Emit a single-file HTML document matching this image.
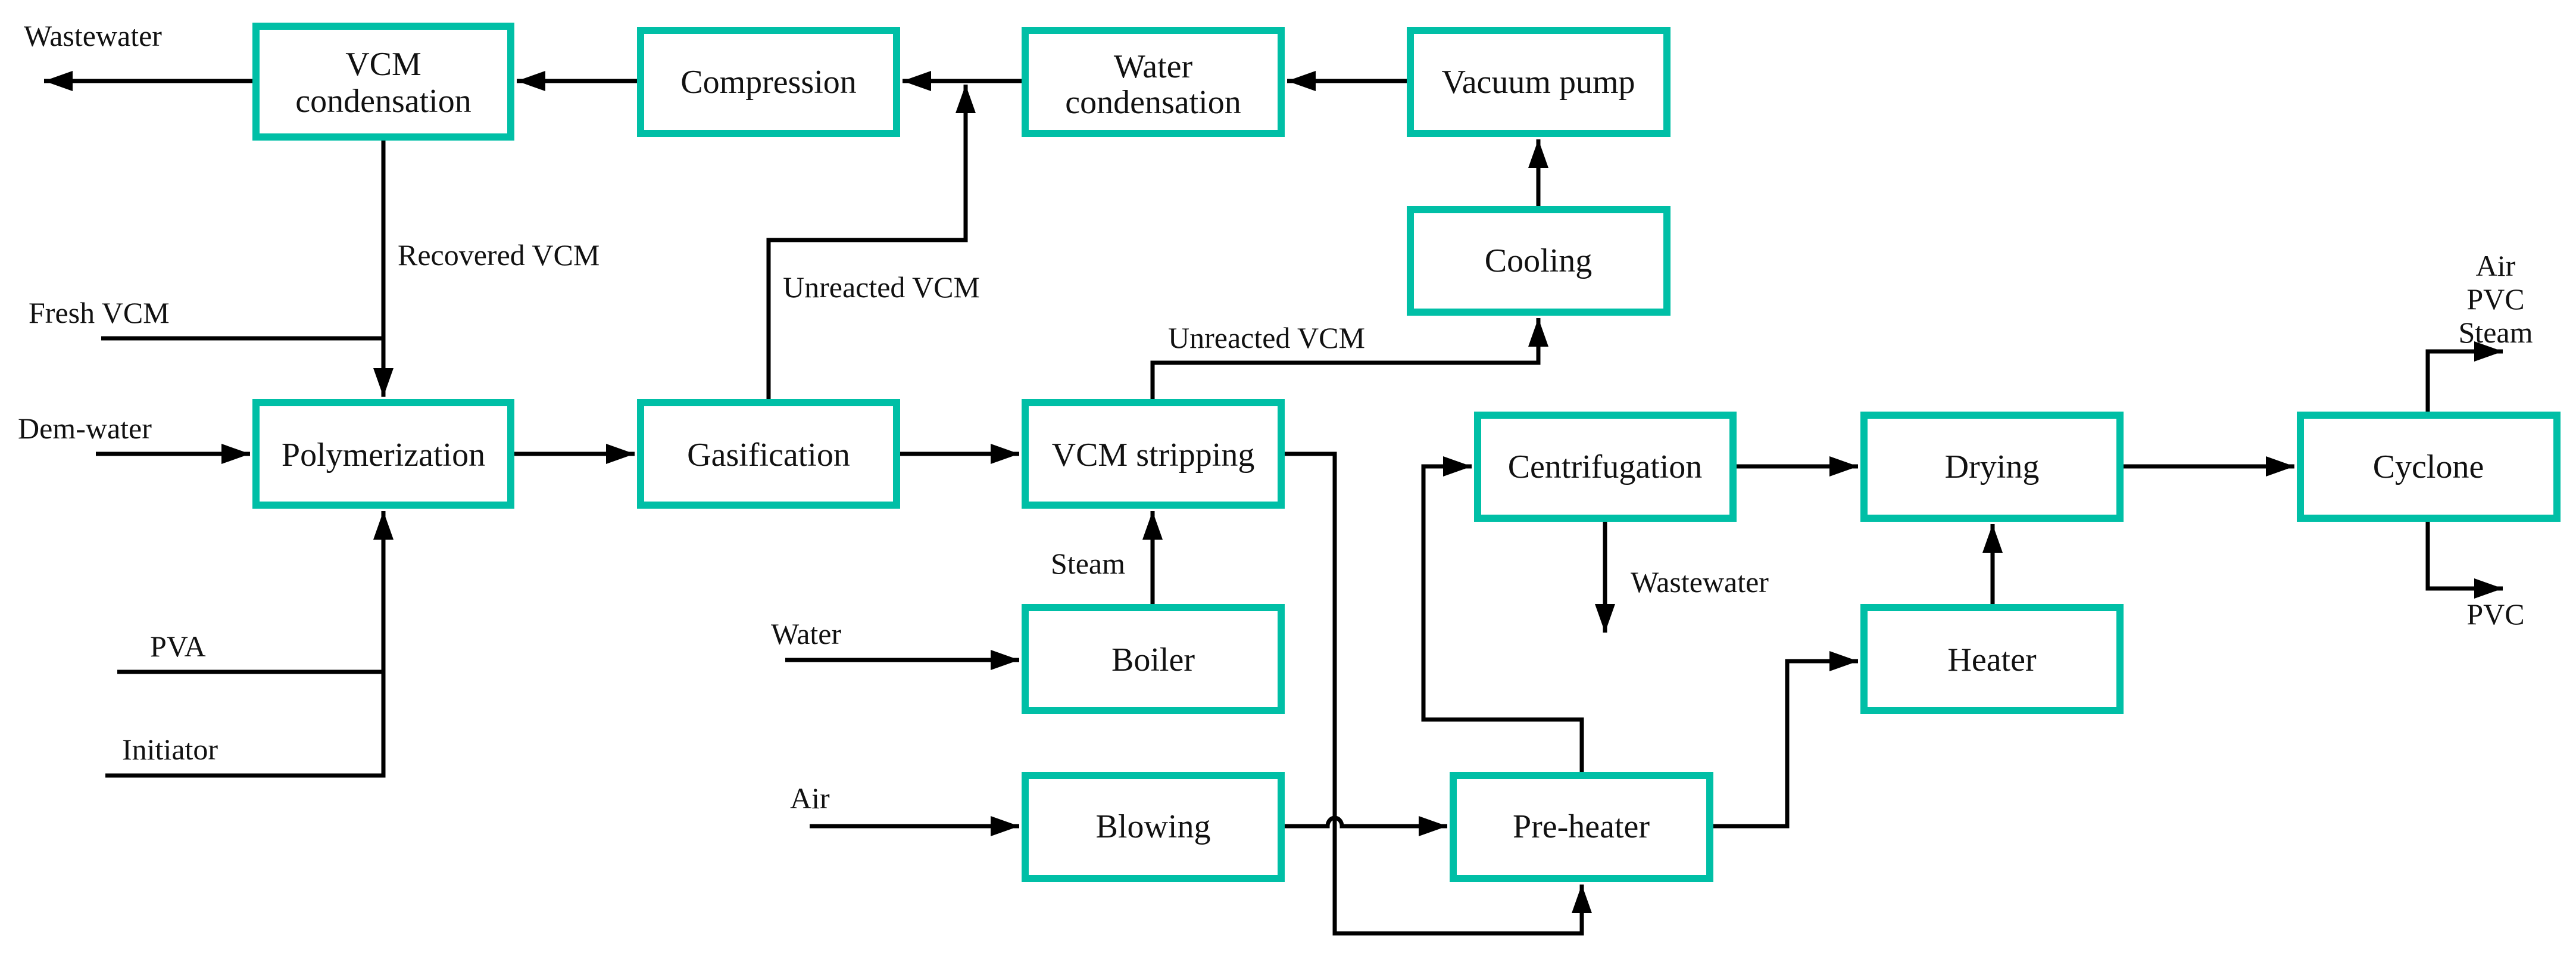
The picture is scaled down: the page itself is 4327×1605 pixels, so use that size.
<!DOCTYPE html>
<html><head><meta charset="utf-8"><style>
html,body{margin:0;padding:0;background:#fff;}
svg{display:block;}
svg text{font-family:"Liberation Serif","DejaVu Serif","Noto Serif CJK SC",serif !important;fill:#111;dominant-baseline:central;}
.b{fill:#fff;stroke:#00bfa6;stroke-width:12;}
.bt{font-size:56px;text-anchor:middle;}
.l{font-size:50px;}
.c{fill:none;stroke:#000;stroke-width:7;}
</style></head><body>
<svg width="4327" height="1605" viewBox="0 0 4327 1605" xmlns="http://www.w3.org/2000/svg" font-family="Liberation Serif, DejaVu Serif, serif">
<defs>
<marker id="a" markerUnits="userSpaceOnUse" markerWidth="50" markerHeight="34" refX="48" refY="17" orient="auto">
<path d="M0,0 L48,17 L0,34 Z" fill="#000"/></marker>
</defs>
<path class="c" d="M424,136 H74" marker-end="url(#a)"/>
<path class="c" d="M1070,136 H868" marker-end="url(#a)"/>
<path class="c" d="M1716,136 H1516" marker-end="url(#a)"/>
<path class="c" d="M2363,136 H2162" marker-end="url(#a)"/>
<path class="c" d="M1291,670 V403 H1622 V142" marker-end="url(#a)"/>
<path class="c" d="M644,236 V666" marker-end="url(#a)"/>
<path class="c" d="M170,568 H644"/>
<path class="c" d="M161,762 H420" marker-end="url(#a)"/>
<path class="c" d="M864,762 H1066" marker-end="url(#a)"/>
<path class="c" d="M1512,762 H1712" marker-end="url(#a)"/>
<path class="c" d="M197,1128 H644"/>
<path class="c" d="M177,1302 H644 V858" marker-end="url(#a)"/>
<path class="c" d="M1936,670 V609 H2584 V534" marker-end="url(#a)"/>
<path class="c" d="M2584,346 V234" marker-end="url(#a)"/>
<path class="c" d="M4078,691 V590 H4204" marker-end="url(#a)"/>
<path class="c" d="M4078,876 V988 H4204" marker-end="url(#a)"/>
<path class="c" d="M2917,783 H3121" marker-end="url(#a)"/>
<path class="c" d="M3567,783 H3854" marker-end="url(#a)"/>
<path class="c" d="M2696,876 V1062" marker-end="url(#a)"/>
<path class="c" d="M3347,1014 V880" marker-end="url(#a)"/>
<path class="c" d="M2878,1387 H3002 V1110 H3121" marker-end="url(#a)"/>
<path class="c" d="M2657,1296 V1208 H2391 V783 H2472" marker-end="url(#a)"/>
<path class="c" d="M2158,762 H2242 V1567 H2657 V1485" marker-end="url(#a)"/>
<path class="c" d="M2158,1387 H2230 A12,14 0 0 1 2254,1387 H2431" marker-end="url(#a)"/>
<path class="c" d="M1319,1108 H1712" marker-end="url(#a)"/>
<path class="c" d="M1360,1387 H1712" marker-end="url(#a)"/>
<path class="c" d="M1936,1014 V858" marker-end="url(#a)"/>
<rect class="b" x="430" y="44" width="428" height="186"/>
<rect class="b" x="1076" y="51" width="430" height="173"/>
<rect class="b" x="1722" y="51" width="430" height="173"/>
<rect class="b" x="2369" y="51" width="431" height="173"/>
<rect class="b" x="2369" y="352" width="431" height="172"/>
<rect class="b" x="430" y="676" width="428" height="172"/>
<rect class="b" x="1076" y="676" width="430" height="172"/>
<rect class="b" x="1722" y="676" width="430" height="172"/>
<rect class="b" x="2482" y="697" width="429" height="173"/>
<rect class="b" x="3131" y="697" width="430" height="173"/>
<rect class="b" x="3864" y="697" width="431" height="173"/>
<rect class="b" x="1722" y="1020" width="430" height="173"/>
<rect class="b" x="3131" y="1020" width="430" height="173"/>
<rect class="b" x="1722" y="1302" width="430" height="173"/>
<rect class="b" x="2441" y="1302" width="431" height="173"/>
<text class="bt" x="644" y="108">VCM</text>
<text class="bt" x="644" y="170">condensation</text>
<text class="bt" x="1291" y="138">Compression</text>
<text class="bt" x="1937" y="112">Water</text>
<text class="bt" x="1937" y="172">condensation</text>
<text class="bt" x="2584" y="138">Vacuum pump</text>
<text class="bt" x="2584" y="438">Cooling</text>
<text class="bt" x="644" y="764">Polymerization</text>
<text class="bt" x="1291" y="764">Gasification</text>
<text class="bt" x="1937" y="764">VCM stripping</text>
<text class="bt" x="2696" y="784">Centrifugation</text>
<text class="bt" x="3346" y="784">Drying</text>
<text class="bt" x="4079" y="784">Cyclone</text>
<text class="bt" x="1937" y="1108">Boiler</text>
<text class="bt" x="3346" y="1108">Heater</text>
<text class="bt" x="1937" y="1388">Blowing</text>
<text class="bt" x="2656" y="1388">Pre-heater</text>
<text class="l" x="40" y="60">Wastewater</text>
<text class="l" x="668" y="428">Recovered VCM</text>
<text class="l" x="1315" y="482">Unreacted VCM</text>
<text class="l" x="1962" y="567">Unreacted VCM</text>
<text class="l" x="48" y="525">Fresh VCM</text>
<text class="l" x="30" y="719">Dem-water</text>
<text class="l" x="252" y="1085">PVA</text>
<text class="l" x="205" y="1258">Initiator</text>
<text class="l" x="1295" y="1064">Water</text>
<text class="l" x="1327" y="1340">Air</text>
<text class="l" x="1765" y="946">Steam</text>
<text class="l" x="2739" y="977">Wastewater</text>
<text class="l" x="4192" y="446" text-anchor="middle">Air</text>
<text class="l" x="4192" y="502" text-anchor="middle">PVC</text>
<text class="l" x="4192" y="558" text-anchor="middle">Steam</text>
<text class="l" x="4192" y="1031" text-anchor="middle">PVC</text>
</svg>
</body></html>
